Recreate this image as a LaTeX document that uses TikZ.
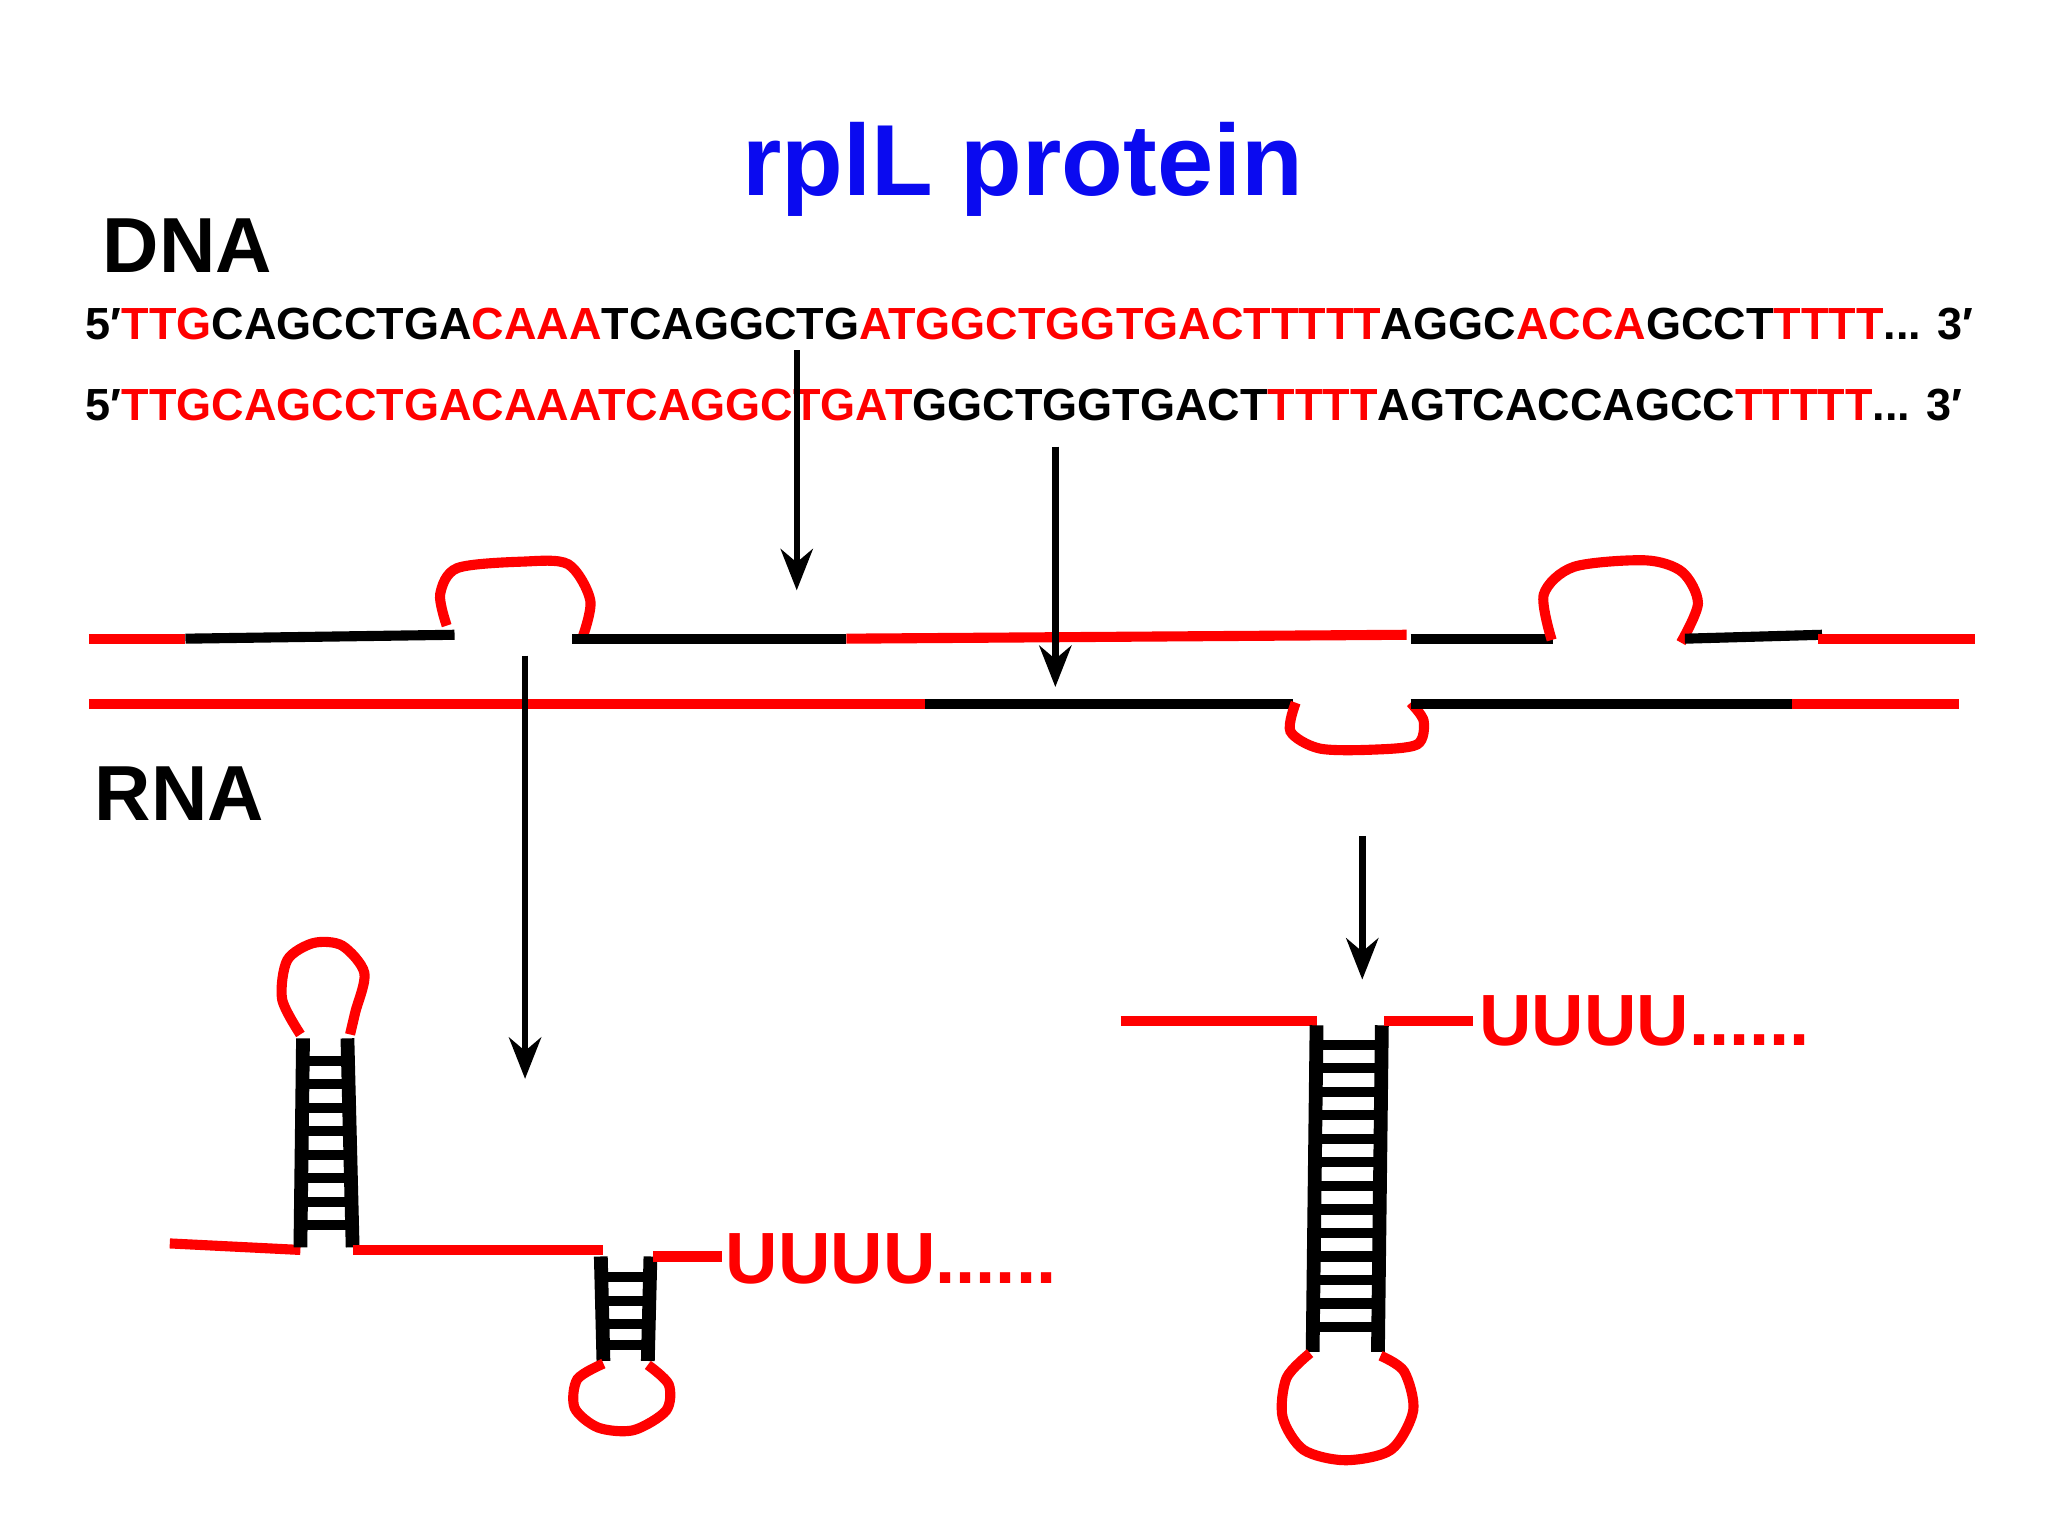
\documentclass[tikz,border=0pt]{standalone}
\usepackage{fontspec}
\setmainfont{Liberation Sans}
\usetikzlibrary{arrows.meta}
\definecolor{rd}{RGB}{255,0,0}
\definecolor{bl}{RGB}{10,10,240}
\tikzset{
 rs/.style={draw=rd,line width=2.2pt},
 ks/.style={draw=black,line width=2.2pt},
 arr/.style={draw=black,line width=1.4pt,-{Stealth[length=9pt,width=7pt]}},
 rail/.style={draw=black,line width=3pt},
 rung/.style={draw=black,line width=2.2pt},
}
\newcommand{\R}[1]{\textcolor{rd}{#1}}
\begin{document}
\begin{tikzpicture}[x=0.01cm,y=-0.01cm]
\useasboundingbox (0,0) rectangle (1568,1176);
\node[font=\bfseries\fontsize{22}{26}\selectfont,text=bl] (title) at (783,130) {rplL protein};
\node[font=\bfseries\fontsize{17}{20}\selectfont,anchor=west,inner sep=0] (dna) at (78,188) {DNA};
\node[font=\bfseries\fontsize{17}{20}\selectfont,anchor=west,inner sep=0] (rna) at (72,608) {RNA};
\node[font=\bfseries\fontsize{9.8}{11}\selectfont,anchor=west,inner sep=0] (s1) at (65,248) {5′\R{TTG}CAGCCTGA\R{CAAA}TCAGGCTG\R{ATGGCTGGTGACTTTTT}AGGC\R{ACCA}GCCT\R{TTTT}... 3′};
\node[font=\bfseries\fontsize{9.8}{11}\selectfont,anchor=west,inner sep=0] (s2) at (65,310) {5′\R{TTGCAGCCTGACAAATCAGGCTGAT}GGCTGGTGACT\R{TTTT}AGTCACCAGCC\R{TTTTT}... 3′};
% upper strand
\draw[rs] (68,489) -- (142,489);
\draw[ks] (142,489) -- (348,486);
\draw[rs] plot[smooth] coordinates {(342,479) (337,455) (350,435) (400,430) (435,432) (452,460) (445,491)};
\draw[ks] (438,489) -- (648,489);
\draw[rs] (648,489) -- (1077,486);
\draw[ks] (1080,489) -- (1189,489);
\draw[rs] plot[smooth] coordinates {(1188,490) (1182,455) (1205,434) (1260,429) (1288,438) (1300,462) (1287,492)};
\draw[ks] (1290,489) -- (1395,486);
\draw[rs] (1392,489) -- (1512,489);
% lower strand
\draw[rs] (68,539) -- (708,539);
\draw[ks] (708,539) -- (990,539);
\draw[rs] plot[smooth] coordinates {(992,538) (988,560) (1010,573) (1050,574) (1085,570) (1090,552) (1080,538)};
\draw[ks] (1080,539) -- (1372,539);
\draw[rs] (1372,539) -- (1500,539);
% arrows
\coordinate (a1) at (610,268); \coordinate (b1) at (610,452);
\coordinate (a2) at (808,342); \coordinate (b2) at (808,526);
\coordinate (a3) at (402,502); \coordinate (b3) at (402,826);
\coordinate (a4) at (1043,640); \coordinate (b4) at (1043,750);
\draw[arr] (a1) -- (b1);
\draw[arr] (a2) -- (b2);
\draw[arr] (a3) -- (b3);
\draw[arr] (a4) -- (b4);
% structure 1
\draw[rs] (130,952) -- (230,957);
\draw[rs] plot[smooth] coordinates {(230,792) (216,765) (220,735) (240,722) (262,724) (279,745) (272,775) (268,792)};
\draw[rail] (232,795) -- (230,955);
\draw[rail] (266,795) -- (270,955);
\foreach \y in {812,830,848,866,884,902,920,938} \draw[rung] (231,\y) -- (268,\y);
\draw[rs] (270,957) -- (462,957);
\draw[rail] (460,962) -- (462,1042);
\draw[rail] (498,962) -- (496,1042);
\foreach \y in {978,996,1014,1030} \draw[rung] (461,\y) -- (497,\y);
\draw[rs] plot[smooth] coordinates {(462,1044) (442,1056) (440,1078) (458,1093) (485,1095) (510,1080) (512,1060) (496,1045)};
\draw[rs] (500,962) -- (553,962);
\node[font=\bfseries\fontsize{15.8}{18}\selectfont,text=rd,anchor=west,inner sep=0] (u1) at (555,964) {UUUU......};
% structure 3
\draw[rs] (858,782) -- (1008,782);
\draw[rail] (1008,785) -- (1005,1035);
\draw[rail] (1058,785) -- (1055,1035);
\foreach \y in {800,818,836,854,872,890,908,926,944,962,980,998,1016} \draw[rung] (1006,\y) -- (1057,\y);
\draw[rs] plot[smooth] coordinates {(1003,1036) (985,1055) (982,1085) (998,1110) (1030,1118) (1065,1110) (1082,1080) (1075,1050) (1057,1038)};
\draw[rs] (1060,782) -- (1128,782);
\node[font=\bfseries\fontsize{15.8}{18}\selectfont,text=rd,anchor=west,inner sep=0] (u2) at (1132,782) {UUUU......};
\end{tikzpicture}
\end{document}
